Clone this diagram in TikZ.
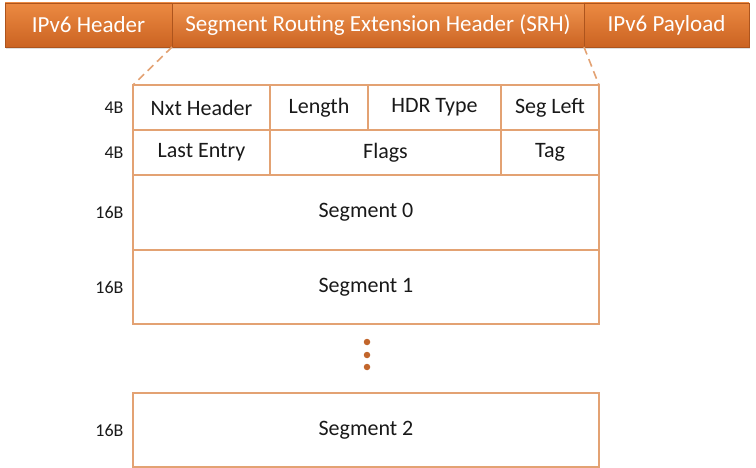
\documentclass[tikz,border=0pt]{standalone}
\usepackage{fontspec}
\setmainfont{Carlito}
\usetikzlibrary{positioning, shadows}
\definecolor{corange}{HTML}{EC8A42}
\definecolor{clight}{HTML}{F09550}
\definecolor{cdark}{HTML}{CB6322}
\definecolor{cline}{HTML}{E3A273}
\definecolor{cdot}{HTML}{C2662C}
\tikzset{
  every picture/.style={x=1pt, y=-1pt},
  bar/.style={top color=#1, bottom color=cdark, draw=cdark!85!black, line width=0.6pt, text=white,
    minimum height=44pt, inner sep=0pt, outer sep=0pt, anchor=north west,
    font=\fontsize{23}{27}\selectfont,
    drop shadow={opacity=0.25, shadow xshift=1pt, shadow yshift=-2.5pt}},
  bar/.default=corange,
  field/.style={draw=cline, line width=1.6pt, inner sep=0pt, outer sep=0pt, anchor=north west,
    text=black!90, font=\fontsize{22}{26}\selectfont},
  size/.style={font=\fontsize{18}{22}\selectfont, text=black!90},
  zoomline/.style={draw=cline, line width=1.6pt, dash pattern=on 8pt off 5pt},
  dot/.style={circle, fill=cdot, inner sep=0pt, minimum size=6.5pt},
}
\begin{document}
\begin{tikzpicture}
  \useasboundingbox (0,0) rectangle (756,468);
  % packet bar
  \node[bar, minimum width=167pt] (ipv6) at (5,3) {IPv6 Header};
  \node[bar=clight, minimum width=412pt] (srh) at (172,3) {Segment Routing Extension Header (SRH)};
  \node[bar, minimum width=165pt] (payload) at (584,3) {IPv6 Payload};
  % SRH fields
  \node[field, minimum width=137pt, minimum height=45pt] (nxt) at (133,85) {Nxt Header};
  \node[field, minimum width=98pt, minimum height=45pt] (len) at (270,85) {Length};
  \node[field, minimum width=133pt, minimum height=45pt] (hdr) at (368,85) {HDR Type};
  \node[field, minimum width=98pt, minimum height=45pt] (segleft) at (501,85) {Seg Left};
  \node[field, minimum width=137pt, minimum height=45pt] (last) at (133,130) {Last Entry};
  \node[field, minimum width=231pt, minimum height=45pt] (flags) at (270,130) {Flags};
  \node[field, minimum width=98pt, minimum height=45pt] (tag) at (501,130) {Tag};
  \node[field, minimum width=466pt, minimum height=75pt] (seg0) at (133,175) {Segment 0};
  \node[field, minimum width=466pt, minimum height=74pt] (seg1) at (133,250) {Segment 1};
  \node[field, minimum width=466pt, minimum height=74pt] (seg2) at (133,393) {Segment 2};
  \foreach \i/\y in {1/342,2/355,3/367} \node[dot] (d\i) at (367,\y) {};
  % sizes
  \foreach \f/\s in {nxt/4B,last/4B,seg0/16B,seg1/16B,seg2/16B}
    \node[size, left=6pt of \f] {\s};
  % zoom
  \draw[zoomline] (srh.south west) -- (nxt.north west);
  \draw[zoomline] (srh.south east) -- (segleft.north east);
\end{tikzpicture}
\end{document}
